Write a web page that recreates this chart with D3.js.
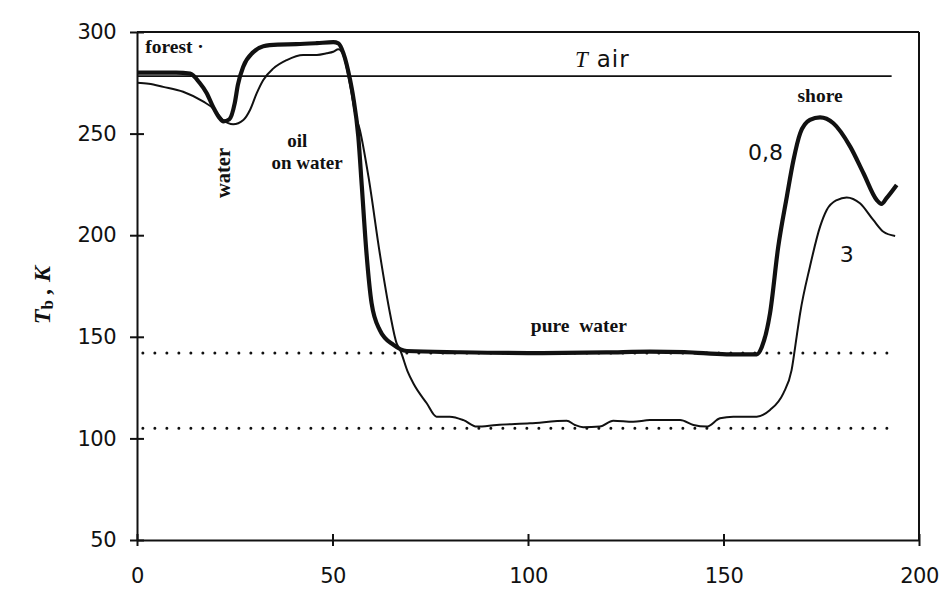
<!DOCTYPE html>
<html>
<head>
<meta charset="utf-8">
<script src="https://cdn.jsdelivr.net/npm/d3@7"></script>
<style>
  html, body { margin: 0; padding: 0; background: #ffffff; }
  svg { display: block; }
</style>
</head>
<body>
<svg id="chart" width="947" height="592"></svg>
<script>
// ---- data ----
const xTicks = [0, 50, 100, 150, 200];
const yTicks = [50, 100, 150, 200, 250, 300];
const tAir = 278.3;
const dottedLevels = [142, 105];

// wavelength 0.8 cm (thick curve): [distance, Tb]
const curve08 = [
  [0, 280], [5, 280], [10, 280], [13.6, 279.5], [16, 275], [17.8, 270], [19.5, 263],
  [21, 258], [22.1, 256], [23.6, 257], [25, 265], [25.8, 274], [27.2, 283], [29.7, 290],
  [32.3, 293], [36, 293.8], [40.8, 294], [46, 294.5], [50.2, 295], [51.5, 294.4],
  [52.8, 289.5], [54.5, 276.4], [55.3, 268], [56.6, 248.5], [57.5, 224], [58.7, 191],
  [60, 166.5], [62.1, 153.3], [65.6, 146], [69, 143], [82.6, 142.4], [100, 142],
  [120, 142.3], [131.2, 142.7], [140, 142.5], [150.8, 141.4], [158.5, 141.4],
  [159.8, 145], [161.9, 161.6], [164, 194.3], [166.2, 219], [167.9, 237], [169.6, 250.1],
  [172.1, 256.7], [174.7, 258], [178.1, 255.1], [182.4, 243.6], [185.8, 230.5],
  [189.2, 217.3], [190.4, 215.4], [191.7, 218.2], [194.3, 224.7]
];

// wavelength 3 cm (thin curve)
const curve3 = [
  [0, 275], [3, 274.5], [6.7, 273], [11.8, 270.6], [17, 265.7], [19.5, 262.4], [22, 256.7],
  [24.6, 254.6], [27.2, 256.7], [28.9, 261.6], [30.6, 269.8], [32.3, 276.4], [34.9, 282.1],
  [38.3, 286.2], [42.5, 288.7], [46, 288.7], [48.5, 289.5], [50.2, 290.3], [51.5, 291.5],
  [52.8, 288.5], [54.5, 274], [55.8, 260], [57, 251.8], [59.2, 228.8], [62.1, 191],
  [64.7, 161.6], [66.4, 146.8], [67.3, 143.5], [69.2, 133], [70.7, 127], [74.1, 117.3],
  [76.6, 110.7], [80, 110.7], [83.5, 109], [86.9, 105.8], [92, 106.6], [100.5, 107.4],
  [109.9, 108.7], [112, 106.6], [114.1, 105.5], [118.4, 105.8], [121.8, 108.7],
  [126.9, 108.2], [131.2, 109], [138.9, 109], [142.3, 106.6], [145.7, 105.8],
  [149.1, 109.9], [152.5, 110.7], [158.5, 110.7], [161.9, 114], [165.3, 122.2],
  [167.4, 133.5], [168.7, 150], [169.6, 161.6], [172.1, 184.5], [174.7, 204.2],
  [176.4, 212.4], [179, 217.3], [181.5, 218.6], [184.9, 215.7], [188.3, 207.5],
  [190.9, 201.7], [193.9, 199.6]
];

// annotation texts: [label, x value, y value]
const boldLabels = [
  ["forest \u00B7", 2.1, 289.7],
  ["pure  water", 113, 152.4],
  ["shore", 174.7, 265.5]
];
const oilLines = [["oil", 41, 243.4], ["on water", 43.5, 232.6]];

// ---- drawing ----
const svg = d3.select("#chart");
const x = d3.scaleLinear().domain([0, 200]).range([137, 919]);
const y = d3.scaleLinear().domain([50, 300]).range([540, 32]);
const ink = "#111";
const serif = "Liberation Serif, Times New Roman, serif";

// frame: top and right borders
svg.append("line").attr("x1", x(0)).attr("x2", x(200)).attr("y1", y(300)).attr("y2", y(300))
  .attr("stroke", ink).attr("stroke-width", 2);
svg.append("line").attr("x1", x(200)).attr("x2", x(200)).attr("y1", y(300)).attr("y2", y(50))
  .attr("stroke", ink).attr("stroke-width", 2);

// y axis
const gy = svg.append("g").attr("transform", `translate(${x(0)},0)`)
  .call(d3.axisLeft(y).tickValues(yTicks).tickSize(7).tickPadding(14).tickSizeOuter(0));
gy.select(".domain").attr("stroke", ink).attr("stroke-width", 2);
gy.selectAll(".tick line").attr("x1", -7).attr("x2", 7).attr("stroke", ink).attr("stroke-width", 2);
gy.selectAll(".tick text").attr("font-family", "DejaVu Sans, sans-serif").attr("font-size", 21)
  .attr("fill", ink).attr("letter-spacing", -0.5);

// x axis
const gx = svg.append("g").attr("transform", `translate(0,${y(50)})`)
  .call(d3.axisBottom(x).tickValues(xTicks).tickSize(6).tickPadding(22).tickSizeOuter(0));
gx.select(".domain").attr("stroke", ink).attr("stroke-width", 2);
gx.selectAll(".tick line").attr("y1", -6).attr("y2", 6).attr("stroke", ink).attr("stroke-width", 2);
gx.selectAll(".tick text").attr("font-family", "DejaVu Sans, sans-serif").attr("font-size", 21)
  .attr("fill", ink).attr("letter-spacing", -0.5);

// T air line
svg.append("line").attr("x1", x(0)).attr("x2", x(193)).attr("y1", y(tAir)).attr("y2", y(tAir))
  .attr("stroke", ink).attr("stroke-width", 1.6);

// dotted reference levels
svg.selectAll(".lvl").data(dottedLevels).enter().append("line")
  .attr("class", "lvl")
  .attr("x1", x(1.5)).attr("x2", x(192)).attr("y1", d => y(d)).attr("y2", d => y(d))
  .attr("stroke", ink).attr("stroke-width", 3).attr("stroke-linecap", "round")
  .attr("stroke-dasharray", "0,12");

// curves
const line = d3.line().x(d => x(d[0])).y(d => y(d[1])).curve(d3.curveMonotoneX);
svg.append("path").datum(curve3).attr("d", line).attr("fill", "none")
  .attr("stroke", ink).attr("stroke-width", 2).attr("stroke-linejoin", "round");
svg.append("path").datum(curve08).attr("d", line).attr("fill", "none")
  .attr("stroke", ink).attr("stroke-width", 4.2).attr("stroke-linejoin", "round");

// bold serif annotations
svg.selectAll(".blab").data(boldLabels).enter().append("text")
  .attr("class", "blab")
  .attr("x", d => x(d[1])).attr("y", d => y(d[2]))
  .attr("text-anchor", (d, i) => i === 0 ? "start" : "middle")
  .attr("font-family", serif)
  .attr("font-weight", "bold").attr("font-size", 19.5).attr("fill", ink)
  .style("white-space", "pre")
  .text(d => d[0]);

// two-line "oil / on water" label
svg.selectAll(".oil").data(oilLines).enter().append("text")
  .attr("class", "oil").attr("text-anchor", "middle")
  .attr("font-family", serif).attr("font-weight", "bold").attr("font-size", 19).attr("fill", ink)
  .attr("x", d => x(d[1])).attr("y", d => y(d[2])).text(d => d[0]);

// vertical "water"
svg.append("text")
  .attr("transform", `translate(${x(23.9)},${y(230.6)}) rotate(-90)`)
  .attr("text-anchor", "middle")
  .attr("font-family", serif)
  .attr("font-weight", "bold").attr("font-size", 20.5).attr("fill", ink)
  .text("water");

// T air label
const ta = svg.append("text").attr("x", x(119)).attr("y", y(282.8)).attr("text-anchor", "middle")
  .attr("fill", ink).attr("font-size", 23);
ta.append("tspan").attr("font-family", "Liberation Serif, serif").attr("font-style", "italic").text("T");
ta.append("tspan").attr("font-family", "DejaVu Sans, sans-serif").attr("dx", 9)
  .attr("letter-spacing", 1).text("air");

// curve labels
svg.append("text").attr("x", x(165.2)).attr("y", y(237)).attr("text-anchor", "end")
  .attr("font-family", "DejaVu Sans, sans-serif").attr("font-size", 22).attr("fill", ink).text("0,8");
svg.append("text").attr("x", x(181.5)).attr("y", y(186.8)).attr("text-anchor", "middle")
  .attr("font-family", "DejaVu Sans, sans-serif").attr("font-size", 22).attr("fill", ink).text("3");

// y axis title
const yt = svg.append("text")
  .attr("transform", `translate(50,${y(170.5)}) rotate(-90)`)
  .attr("text-anchor", "middle")
  .attr("font-family", serif)
  .attr("font-weight", "bold").attr("font-style", "italic").attr("font-size", 24).attr("fill", ink);
yt.append("tspan").text("T");
yt.append("tspan").attr("font-size", 17).attr("font-style", "normal").attr("dy", 3).text("b");
yt.append("tspan").attr("dy", -3).text(" , K");
</script>
</body>
</html>
